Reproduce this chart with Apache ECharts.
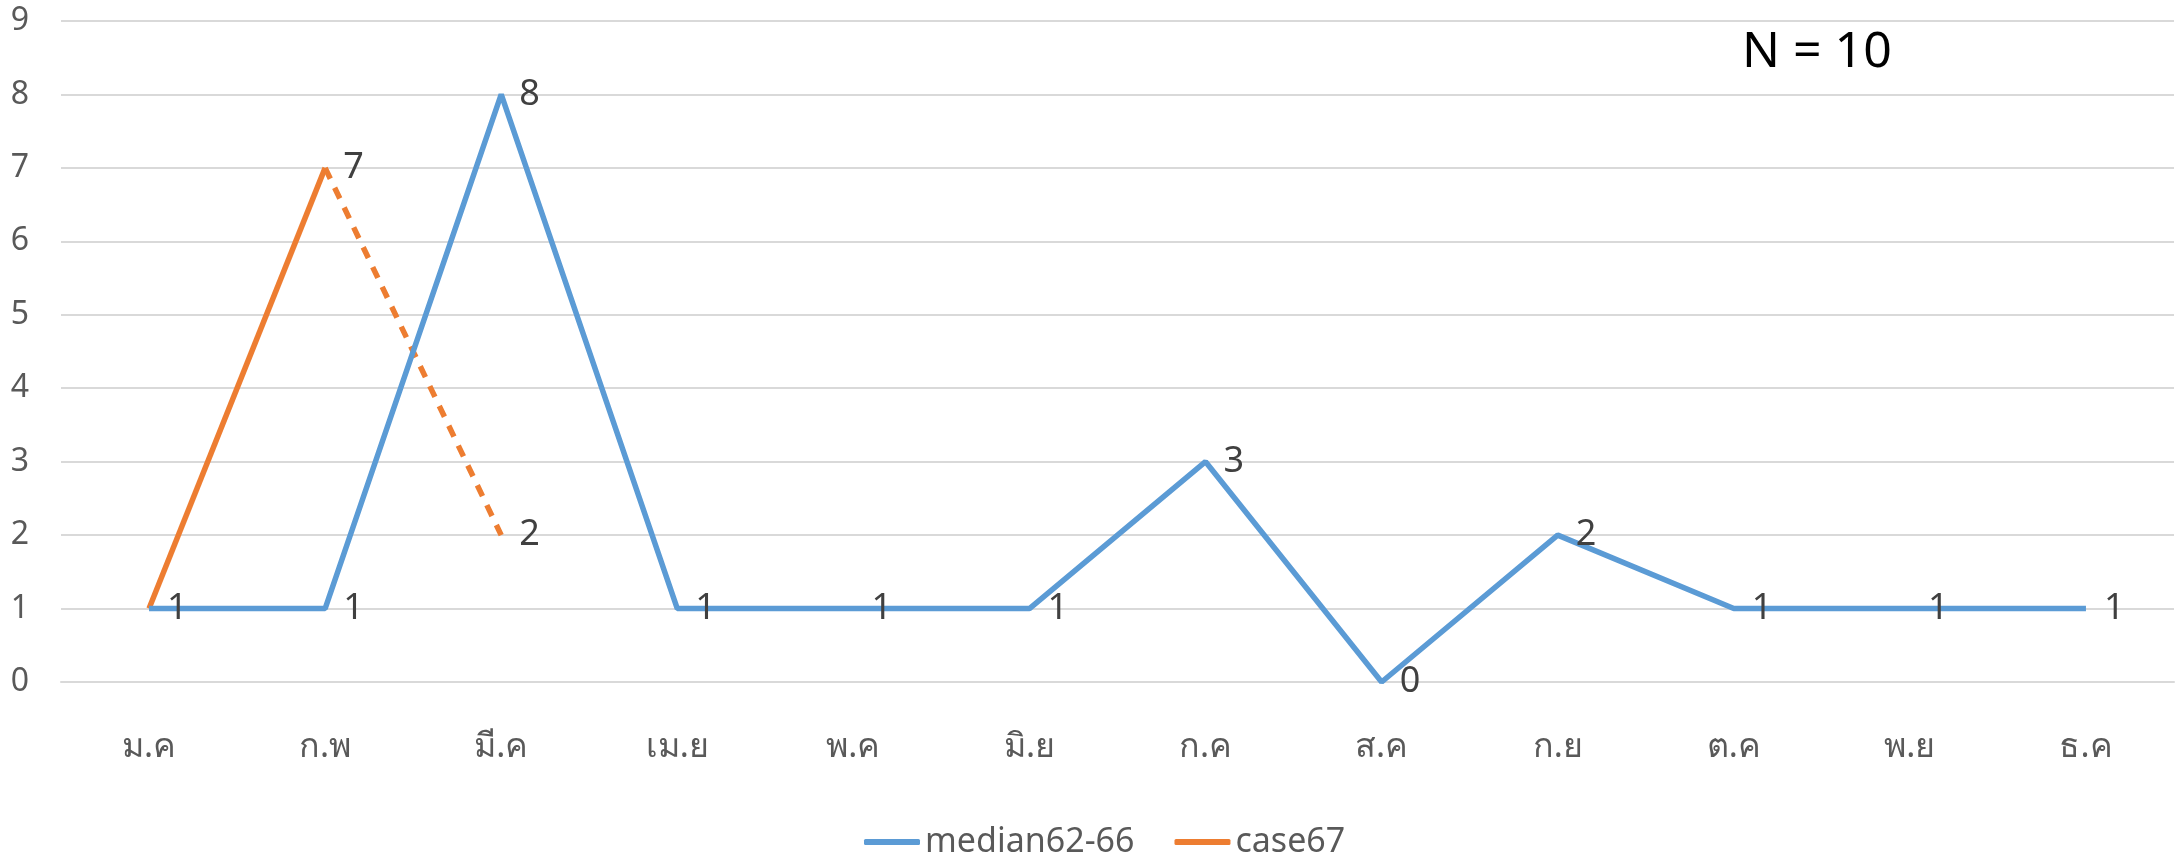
<!DOCTYPE html>
<html>
<head>
<meta charset="utf-8">
<script src="https://cdn.jsdelivr.net/npm/echarts@6/dist/echarts.min.js"></script>
<style>html,body{margin:0;padding:0;background:#fff;}#c{width:2178px;height:855px;}</style>
</head>
<body>
<div id="c"></div>
<script>
const months = ['ม.ค','ก.พ','มี.ค','เม.ย','พ.ค','มิ.ย','ก.ค','ส.ค','ก.ย','ต.ค','พ.ย','ธ.ค'];
const median6266 = [1,1,8,1,1,1,3,0,2,1,1,1];
const case67 = [1,7,2];
const yTicks = [0,1,2,3,4,5,6,7,8,9];
const annotation = 'N = 10';

const case67Solid = case67.map((v,i)=> i<=1 ? v : null);
const case67Dashed = case67.map((v,i)=> i>=1 ? v : null);

const FONT = '"Noto Sans", "DejaVu Sans", sans-serif';
const labelCfg = {show:true,position:'right',distance:18,fontSize:36,color:'#404040',fontFamily:FONT};
const chart = echarts.init(document.getElementById('c'));
chart.setOption({
  animation:false,
  backgroundColor:'#ffffff',
  grid:{left:61,right:4,top:21,bottom:173},
  legend:{
    left:859, top:820,
    icon:'roundRect', itemWidth:56, itemHeight:6, itemGap:40,
    textStyle:{fontSize:34,color:'#595959',fontFamily:FONT,padding:[0,0,0,0]},
    data:['median62-66','case67']
  },
  xAxis:{
    type:'category', data:months, boundaryGap:true,
    axisLine:{show:true,lineStyle:{color:'#D9D9D9',width:2}},
    axisTick:{show:false},
    axisLabel:{fontSize:34,color:'#595959',margin:48,fontFamily:FONT}
  },
  yAxis:{
    type:'value', min:yTicks[0], max:yTicks[yTicks.length-1], interval:1,
    axisLine:{show:false}, axisTick:{show:false},
    splitLine:{lineStyle:{color:'#D9D9D9',width:2}},
    axisLabel:{fontSize:32,color:'#595959',margin:32,fontFamily:FONT}
  },
  graphic:[{
    type:'text', left:1742, top:28,
    style:{text:annotation,fontSize:50,fill:'#000000',fontFamily:FONT}
  }],
  series:[
    {
      name:'median62-66', type:'line', data:median6266,
      symbol:'circle', symbolSize:0.01, showSymbol:true, itemStyle:{color:'#5B9BD5'},
      lineStyle:{color:'#5B9BD5',width:5.5},
      label:labelCfg,
      z:3
    },
    {
      name:'case67', type:'line', data:case67Solid,
      symbol:'none', itemStyle:{color:'#ED7D31'},
      lineStyle:{color:'#ED7D31',width:5.5},
      z:2
    },
    {
      name:'case67', type:'line', data:case67Dashed,
      symbol:'circle', symbolSize:0.01, showSymbol:true, itemStyle:{color:'#ED7D31'},
      lineStyle:{color:'#ED7D31',width:5.5,type:[12,10]},
      label:labelCfg,
      z:2
    }
  ]
});
</script>
</body>
</html>
